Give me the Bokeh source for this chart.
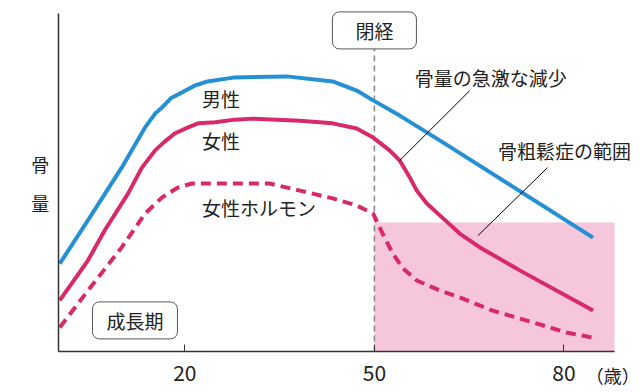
from bokeh.plotting import figure
from bokeh.models import Range1d, FixedTicker, Label, ColumnDataSource
from bokeh.embed import file_html
from bokeh.resources import INLINE

# ---- data (age in years, bone mass in arbitrary units 0-100) ----
men_age = [0.2, 4.65, 10.0, 13.7, 15.3, 16.4, 17.9, 19.5, 21.6, 23.6, 27.9, 36.1, 43.4, 47.2, 49.8,
           54.0, 60.4, 84.6]
men_mass = [26.0, 38.8, 54.4, 66.3, 70.4, 72.2, 75.1, 76.6, 78.7, 79.9, 81.1, 81.4, 79.9, 77.2, 74.3,
            69.8, 62.4, 33.7]

women_age = [0.2, 4.65, 7.3, 11.0, 13.2, 15.3, 16.8, 18.4, 20.5, 22.1, 24.8, 27.9, 30.8, 38.2, 43.4,
             47.2, 49.8, 52.4, 54.0, 55.6, 56.7, 58.3, 60.4, 63.5, 66.7, 73.0, 84.6]
women_mass = [15.1, 26.9, 35.8, 46.7, 54.4, 59.5, 62.1, 64.5, 66.3, 67.5, 67.8, 68.6, 68.9, 68.3, 67.5,
              66.0, 63.3, 59.5, 56.5, 51.5, 47.6, 43.8, 40.2, 34.9, 30.8, 24.0, 12.1]

hormone_age = [0.2, 4.65, 10.0, 13.7, 16.4, 17.6, 18.9, 21.1, 27.9, 33.4, 38.2, 43.4, 47.2, 49.8, 51.3,
               52.9, 54.5, 56.7, 60.4, 63.5, 68.7, 75.1, 80.4, 84.6]
hormone_mass = [7.1, 18.0, 30.8, 40.8, 45.6, 47.0, 48.5, 49.7, 49.7, 49.7, 47.6, 45.3, 43.2, 40.8, 34.9,
                29.0, 24.6, 21.0, 18.0, 16.0, 12.1, 8.6, 5.6, 4.1]

menopause_age = 50
osteo_range = dict(left=[50], right=[88], bottom=[0], top=[38.2])
x_ticks = [20, 50, 80]
age_max = 88
mass_max = 100

BLUE = "#2590d2"
RED = "#d82a6b"
PINK = "#f6c6db"
TXT = "#222222"
FONT = "Noto Sans CJK JP"

p = figure(width=640, height=388, output_backend="svg", toolbar_location=None,
           x_range=Range1d(-9.18, 92.115), y_range=Range1d(-10.95, 103.85),
           min_border_left=0, min_border_right=0, min_border_top=0, min_border_bottom=0)
p.outline_line_color = None
p.grid.visible = False
p.background_fill_color = "white"

# axes (placed at x=0 / y=0 inside the frame)
p.xaxis.fixed_location = 0
p.xaxis.bounds = (0, age_max)
p.xaxis.ticker = FixedTicker(ticks=x_ticks)
p.xaxis.major_tick_in = 7
p.xaxis.major_tick_out = 0
p.xaxis.minor_tick_line_color = None
p.xaxis.axis_line_color = "#333333"
p.xaxis.axis_line_width = 1.5
p.xaxis.major_tick_line_color = "#333333"
p.xaxis.major_label_text_font = FONT
p.xaxis.major_label_text_font_size = "21px"
p.xaxis.major_label_text_color = TXT
p.xaxis.major_label_standoff = 14

p.yaxis.fixed_location = 0
p.yaxis.bounds = (0, mass_max)
p.yaxis.ticker = FixedTicker(ticks=[])
p.yaxis.minor_tick_line_color = None
p.yaxis.axis_line_color = "#333333"
p.yaxis.axis_line_width = 1.5

# osteoporosis range
p.quad(source=ColumnDataSource(osteo_range), left="left", right="right", bottom="bottom", top="top",
       fill_color=PINK, line_color=None)

# menopause dashed line
p.line([menopause_age, menopause_age], [0, 89.9], line_color="#888888", line_width=1.5, line_dash="6 4")

# curves
p.line(hormone_age, hormone_mass, line_color=RED, line_width=4, line_dash="10 6", line_join="round")
p.line(women_age, women_mass, line_color=RED, line_width=4, line_join="round")
p.line(men_age, men_mass, line_color=BLUE, line_width=4, line_join="round")

# leader lines
p.line([65.1, 54.0], [77.2, 56.5], line_color="black", line_width=1)
p.line([77.4, 66.4], [54.4, 34.3], line_color="black", line_width=1)


def lab(x, y, t, align="left", size="19px", **kw):
    l = Label(x=x, y=y, text=t, text_font=FONT, text_font_size=size, text_color=TXT,
              text_align=align, text_baseline="middle", **kw)
    p.add_layout(l)


lab(22.7, 74.9, "男性")
lab(22.7, 62.4, "女性")
lab(22.7, 42.6, "女性ホルモン")
lab(68.4, 81.1, "骨量の急激な減少", align="center")
lab(80.1, 59.5, "骨粗鬆症の範囲", align="center")
lab(-2.9, 55.6, "骨", align="center", size="18px")
lab(-2.9, 43.8, "量", align="center", size="18px")
lab(87.74, -7.1, "（歳）", align="center", size="18px")
lab(50, 95.0, "閉経", align="center", border_line_color="#555555", border_line_width=1,
    background_fill_color="white", padding=(23, 23, 5, 5), border_radius=7)
lab(12.1, 9.2, "成長期", align="center", border_line_color="#555555", border_line_width=1,
    background_fill_color="white", padding=(14, 14, 5, 5), border_radius=7)

open("out.html", "w").write(file_html(p, INLINE))
